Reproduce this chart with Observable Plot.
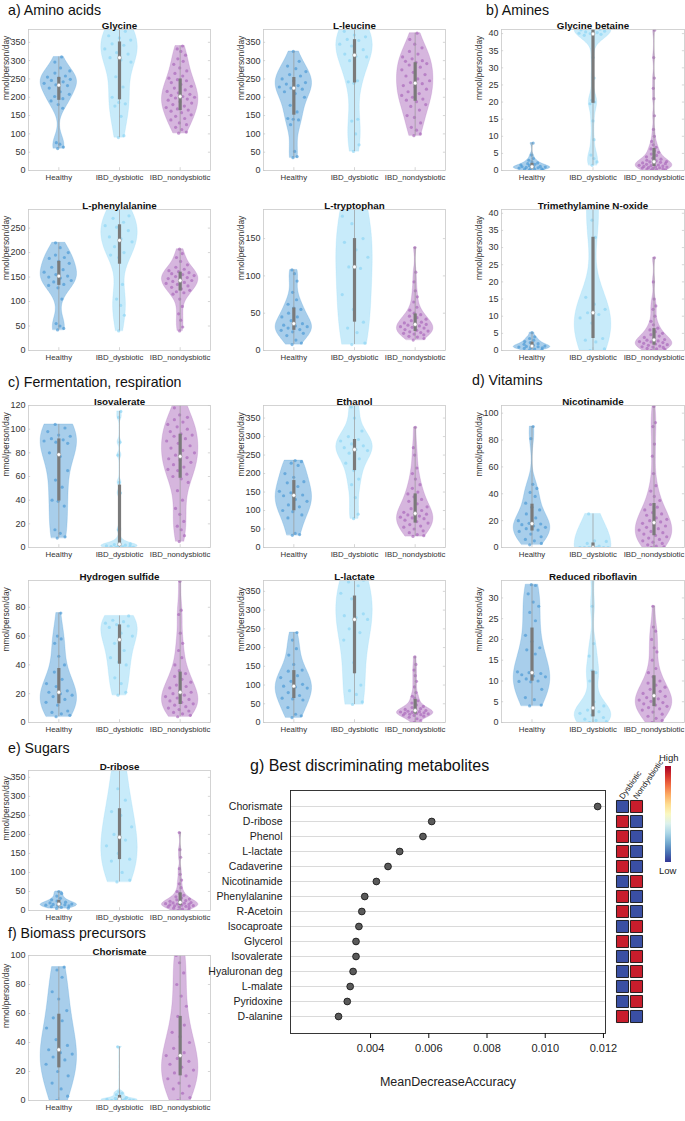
<!DOCTYPE html>
<html><head><meta charset="utf-8">
<script src="https://cdn.jsdelivr.net/npm/d3@7"></script>
<script src="https://cdn.jsdelivr.net/npm/@observablehq/plot@0.6"></script>
<style>
body{margin:0;background:#fff;}
#root{position:relative;width:685px;height:1121px;overflow:hidden;font-family:"Liberation Sans",Arial,Helvetica,sans-serif;color:#111;}
.hdr{position:absolute;font-size:14.2px;line-height:16px;white-space:nowrap;}
.pn{position:absolute;}
.pn svg{overflow:visible;max-width:none !important;}
</style></head><body><div id="root"></div>
<script>
// ---------- categories ----------
const groups = ["Healthy", "IBD_dysbiotic", "IBD_nondysbiotic"];

// ---------- a) Amino acids ----------
const glycineHealthy = [60,64,72,76,170,180,190,196,202,208,215,225,232,234,238,242,246,249,252,255,258,266,272,280,296,310];
const glycineDysbiotic = [90,95,148,176,182,186,200,228,256,296,302,308,318,322,332,342,346,356,362,368,380,400,420];
const glycineNondysbiotic = [102,105,112,118,125,130,138,142,148,152,158,162,165,168,172,176,180,184,188,192,195,198,200,202,205,208,212,216,220,225,230,235,240,245,248,252,258,265,272,280,290,298,305,315,325,332,340];

const leucineHealthy = [35,38,52,125,138,140,142,160,178,200,210,215,222,225,228,232,236,240,245,250,258,262,270,278,285,298,325];
const leucineDysbiotic = [52,70,100,135,140,238,242,245,300,310,312,318,330,340,345,355,358,365,370,380,400,420];
const leucineNondysbiotic = [95,100,110,118,130,145,150,165,175,180,188,192,195,200,205,210,215,222,228,232,237,240,245,250,258,262,268,275,282,288,292,295,298,300,305,310,318,325,335,345,358,375];

const phenylalanineHealthy = [42,45,50,55,105,128,133,135,140,143,148,150,152,155,160,165,170,178,182,188,190,195,200,210,220];
const phenylalanineDysbiotic = [40,72,92,105,135,190,195,200,212,222,228,232,245,252,255,262,270,275,290,305];
const phenylalanineNondysbiotic = [40,48,62,75,90,105,115,118,120,123,126,129,132,135,137,139,141,143,145,147,149,151,153,155,157,159,161,163,166,170,175,182,190,198,207];

const tryptophanHealthy = [8,10,14,20,23,25,27,28,30,32,33,34,36,40,45,45,50,55,57,62,68,78,93,103,108];
const tryptophanDysbiotic = [8,10,24,30,38,55,75,110,112,125,135,145,150,170,180,200,220];
const tryptophanNondysbiotic = [14,16,18,19,21,22,23,24,25,26,27,28,30,31,32,33,34,35,36,37,38,40,42,44,46,48,50,54,58,65,72,80,92,105,138];

// ---------- b) Amines ----------
const betaineHealthy = [0.1,0.2,0.3,0.4,0.5,0.6,0.7,0.8,0.9,1.0,1.0,1.1,1.2,1.4,1.6,1.8,2.0,2.2,2.5,3.0,3.5,4.5,8.0];
const betaineDysbiotic = [1.5,2.5,3.5,4.5,9,14.5,19.5,20,20.5,27,33,39.5,39.8,40,40.1,40.3,40.5,40.7,40.9,41.1,41.3,41.6,42,42.5,43,44];
const betaineNondysbiotic = [0.1,0.2,0.3,0.4,0.5,0.6,0.7,0.8,0.9,1.0,1.1,1.2,1.3,1.4,1.5,1.6,1.8,2.0,2.1,2.2,2.4,2.5,2.6,2.8,3.0,3.3,3.6,4.0,4.4,4.8,5.3,5.8,6.3,6.8,7.5,8.5,10,12,16,21,24,27,33,41];

const tmaoHealthy = [0.1,0.2,0.4,0.6,0.8,0.9,1.0,1.1,1.2,1.3,1.5,1.8,2.0,2.3,2.6,3.0,3.5,4.0,5.2];
const tmaoDysbiotic = [0,0.5,2.5,3,3.5,8,9.5,10.5,11,12,13.5,15.5,33,38,42,48,60];
const tmaoNondysbiotic = [0,0.3,0.5,0.6,0.9,1.0,1.1,1.3,1.5,1.7,1.9,2.1,2.3,2.5,2.6,2.8,3.0,3.2,3.5,3.8,4.2,4.6,5.0,5.5,6.0,6.5,7.5,8.5,10,12,13,15,20,27];

// ---------- c) Fermentation, respiration ----------
const isovalerateHealthy = [8,9,12,15,35,39,40,51,57,65,77,80,88,89,90,91,92,94,95,98,101,104];
const isovalerateDysbiotic = [0,0.2,0.5,0.8,1,1.2,1.5,2,2.5,3,7,15,46,55,78,89,110,115];
const isovalerateNondysbiotic = [5,10,15,18,22,28,33,40,48,55,58,60,62,65,66,68,70,72,74,75,76,78,80,82,84,86,88,90,92,94,95,96,98,100,102,104,106,108,110,112,118,125];

const ethanolHealthy = [33,35,38,80,88,97,100,110,115,125,130,140,142,148,152,165,175,178,190,200,222,228,232,235];
const ethanolDysbiotic = [78,90,135,170,185,208,228,240,255,262,265,270,275,280,288,292,300,315,350,380,400];
const ethanolNondysbiotic = [30,32,35,40,45,50,55,58,62,66,70,74,78,80,82,85,88,90,92,95,100,105,110,118,125,130,137,145,150,160,170,185,200,215,250,270,325];

const sulfideHealthy = [4,5,6,7,8,12,14,16,18,19,20,21,22,25,27,30,35,40,46,55,58,60,76];
const sulfideDysbiotic = [19,21,27,31,40,42,45,50,55,60,62,66,67,68,69,70,71,74];
const sulfideNondysbiotic = [4,5,6,7,8,9,10,11,12,13,14,15,16,17,18,19,20,21,22,24,25,26,28,30,32,34,36,40,45,50,55,62,75,78,98];

const lactateHealthy = [13,18,22,40,60,63,65,72,80,92,95,97,102,110,120,125,137,140,155,180,197,220,240];
const lactateDysbiotic = [48,55,75,85,100,160,220,240,250,275,280,285,290,330,345,365,375,380,400];
const lactateNondysbiotic = [0,5,10,14,17,19,20,21,22,23,24,25,26,27,28,29,30,32,33,35,37,40,43,47,52,58,65,70,80,95,110,125,140,155,175];

// ---------- d) Vitamins ----------
const nicotinamideHealthy = [2,3,5,6,8,10,12,13,14,15,16,17,17.5,18,20,22,25,28,30,33,38,41,44,47,81,90];
const nicotinamideDysbiotic = [0,0,0,0,0,0,0,1,3,4.5,5,25];
const nicotinamideNondysbiotic = [0,0.5,1,2,3,4,5,6,7,8,9,10,11,12,13,14,15,16,17,18,19,20,21,22,24,25,26,28,30,32,35,38,42,46,55,68,77,90,93,105];

const riboflavinHealthy = [4,4.2,5.5,6,8,9.8,9.9,10,10.5,11,11.2,11.5,11.8,12,12.2,16.5,17.5,18,19.5,21,24.5,26.5,28,29,31,33,33.2];
const riboflavinDysbiotic = [0,0.2,0.5,0.8,1.2,1.8,2.2,2.6,3,4,5,10,12,12.5,16,19,28,36];
const riboflavinNondysbiotic = [0,0.5,1,1.5,2,2.5,3,3.3,3.6,3.9,4.2,4.5,4.8,5.1,5.4,5.7,6.0,6.3,6.6,7,7.5,8,8.5,9,9.5,10,11,12,13,15,17,18,20,22,23,28];

// ---------- e) Sugars ----------
const riboseHealthy = [5,6,8,10,12,13,14,15,16,17,18,20,22,25,28,32,38,45,50];
const riboseDysbiotic = [75,80,100,130,135,150,170,185,200,220,250,260,290,320,370,400];
const riboseNondysbiotic = [0,2,4,6,8,9,10,11,12,13,14,15,16,17,18,19,20,21,22,24,26,28,30,33,36,40,45,50,60,70,80,95,110,140,160,205];

// ---------- f) Biomass precursors ----------
const chorismateHealthy = [0,3,8,12,17,20,25,28,30,32,33,35,38,42,50,55,57,62,70,75,85,90,92];
const chorismateDysbiotic = [0,0,0,0,0.2,0.5,0.8,1,1.5,2,3,4,5,6,37];
const chorismateNondysbiotic = [0,2,5,8,10,12,15,17,19,21,23,25,27,29,31,33,36,40,44,47,52,58,65,72,80,88,95,100,105];

// ---------- g) Best discriminating metabolites ----------
const metabolites = ["Chorismate","D-ribose","Phenol","L-lactate","Cadaverine","Nicotinamide","Phenylalanine","R-Acetoin","Isocaproate","Glycerol","Isovalerate","Hyaluronan deg","L-malate","Pyridoxine","D-alanine"];
const meanDecreaseAccuracy = [0.0118,0.0061,0.0058,0.0050,0.0046,0.0042,0.0038,0.0037,0.0036,0.0035,0.0035,0.0034,0.0033,0.0032,0.0029];
const dysbioticLevel = ["Low","High","High","High","High","Low","High","High","Low","High","Low","Low","Low","Low","High"];
const nondysbioticLevel = ["High","Low","Low","Low","Low","High","Low","Low","High","Low","High","High","High","High","Low"];
const accuracyTicks = [0.004,0.006,0.008,0.010,0.012];

// ---------- styles / layout ----------
const FONT = '"Liberation Sans", Arial, Helvetica, sans-serif';
const groupColors = ["#3f93d2", "#86d2f3", "#a35eb6"];
const cols = {A: {left: 28, w: 182}, B: {left: 263, w: 182}, C: {left: 501, w: 183}};
const rows = {r1: {top: 29, h: 141}, r2: {top: 209, h: 141}, r3: {top: 405, h: 142}, r4: {top: 580, h: 142}, r5: {top: 770, h: 140}, r6: {top: 955, h: 145}};

const panels = [
  {title: "Glycine", data: [glycineHealthy, glycineDysbiotic, glycineNondysbiotic], max: 385, step: 50, col: "A", row: "r1"},
  {title: "L-leucine", data: [leucineHealthy, leucineDysbiotic, leucineNondysbiotic], max: 385, step: 50, col: "B", row: "r1"},
  {title: "Glycine betaine", data: [betaineHealthy, betaineDysbiotic, betaineNondysbiotic], max: 41.2, step: 5, col: "C", row: "r1"},
  {title: "L-phenylalanine", data: [phenylalanineHealthy, phenylalanineDysbiotic, phenylalanineNondysbiotic], max: 288, step: 50, col: "A", row: "r2"},
  {title: "L-tryptophan", data: [tryptophanHealthy, tryptophanDysbiotic, tryptophanNondysbiotic], max: 189, step: 50, col: "B", row: "r2"},
  {title: "Trimethylamine N-oxide", data: [tmaoHealthy, tmaoDysbiotic, tmaoNondysbiotic], max: 41.1, step: 5, col: "C", row: "r2"},
  {title: "Isovalerate", data: [isovalerateHealthy, isovalerateDysbiotic, isovalerateNondysbiotic], max: 120, step: 20, col: "A", row: "r3"},
  {title: "Ethanol", data: [ethanolHealthy, ethanolDysbiotic, ethanolNondysbiotic], max: 384, step: 50, col: "B", row: "r3"},
  {title: "Nicotinamide", data: [nicotinamideHealthy, nicotinamideDysbiotic, nicotinamideNondysbiotic], max: 105.7, step: 20, col: "C", row: "r3"},
  {title: "Hydrogen sulfide", data: [sulfideHealthy, sulfideDysbiotic, sulfideNondysbiotic], max: 98.6, step: 20, col: "A", row: "r4"},
  {title: "L-lactate", data: [lactateHealthy, lactateDysbiotic, lactateNondysbiotic], max: 379, step: 50, col: "B", row: "r4"},
  {title: "Reduced riboflavin", data: [riboflavinHealthy, riboflavinDysbiotic, riboflavinNondysbiotic], max: 34.2, step: 5, col: "C", row: "r4"},
  {title: "D-ribose", data: [riboseHealthy, riboseDysbiotic, riboseNondysbiotic], max: 368, step: 50, col: "A", row: "r5"},
  {title: "Chorismate", data: [chorismateHealthy, chorismateDysbiotic, chorismateNondysbiotic], max: 100, step: 20, col: "A", row: "r6"}
];

const headers = [
  {text: "a) Amino acids", left: 8, top: 2, size: 14.2},
  {text: "b) Amines", left: 486, top: 2, size: 14.2},
  {text: "c) Fermentation, respiration", left: 8, top: 374, size: 14.2},
  {text: "d) Vitamins", left: 472, top: 372, size: 14.2},
  {text: "e) Sugars", left: 8, top: 740, size: 14.2},
  {text: "f) Biomass precursors", left: 8, top: 925, size: 14.2},
  {text: "g) Best discriminating metabolites", left: 250, top: 758, size: 16}
];

const root = document.getElementById("root");
function place(node, left, top) {
  const d = document.createElement("div");
  d.className = "pn";
  d.style.left = left + "px";
  d.style.top = top + "px";
  d.appendChild(node);
  root.appendChild(d);
}
for (const h of headers) {
  const d = document.createElement("div");
  d.className = "hdr";
  d.style.left = h.left + "px";
  d.style.top = h.top + "px";
  d.style.fontSize = h.size + "px";
  d.textContent = h.text;
  root.appendChild(d);
}

// ---------- violin marks (kernel density, truncated at data range) ----------
const HALF = 0.3;
function violinMarks(vals, i, color) {
  const v = vals.slice().sort(d3.ascending);
  const n = v.length, c = i + 0.5;
  const lo = v[0], hi = v[n - 1];
  const med = d3.median(v);
  let sig = d3.median(v, d => Math.abs(d - med)) / 0.6745;
  if (!(sig > 0)) sig = hi - lo;
  const h = sig * Math.pow(4 / (3 * n), 0.2);
  const dens = y => d3.sum(v, x => Math.exp(-0.5 * ((y - x) / h) ** 2));
  const grid = d3.range(0, 161).map(k => lo + (hi - lo) * k / 160);
  const dd = grid.map(dens);
  const m = d3.max(dd);
  const outline = grid.map((y, k) => ({y, x1: c - HALF * dd[k] / m, x2: c + HALF * dd[k] / m}));
  const pts = vals.map((y, k) => {
    const j = ((k * 0.6180339887 + 0.37) % 1) * 2 - 1;
    return {y, x: c + j * 0.85 * HALF * dens(y) / m};
  });
  const q1 = d3.quantile(v, 0.25), q3 = d3.quantile(v, 0.75);
  return [
    Plot.areaX(outline, {y: "y", x1: "x1", x2: "x2", fill: color, fillOpacity: 0.45, stroke: color, strokeOpacity: 0.35, strokeWidth: 0.6, curve: "linear", clip: true}),
    Plot.dot(pts, {x: "x", y: "y", r: 1.6, fill: color, fillOpacity: 0.6, clip: true}),
    Plot.ruleX([{x: c, y1: lo, y2: hi}], {x: "x", y1: "y1", y2: "y2", stroke: "#999", strokeWidth: 0.7, clip: true}),
    Plot.ruleX([{x: c, y1: q1, y2: q3}], {x: "x", y1: "y1", y2: "y2", stroke: "#7a7a7a", strokeWidth: 3.2, clip: true}),
    Plot.dot([{x: c, y: med}], {x: "x", y: "y", r: 1.9, fill: "white", stroke: "#8a8a8a", strokeWidth: 0.5, clip: true})
  ];
}

function violinPanel(p) {
  const col = cols[p.col], row = rows[p.row];
  const mL = 32, mR = 2, mT = 20, mB = 18;
  const ticks = d3.range(0, p.max + 1e-9, p.step);
  const marks = [
    Plot.ruleY(ticks, {x1: 0, x2: 0.035, stroke: "#c4c4c4", strokeWidth: 0.7}),
    Plot.ruleY(ticks, {x1: 2.965, x2: 3, stroke: "#c4c4c4", strokeWidth: 0.7}),
    Plot.ruleX([0.5, 1.5, 2.5], {y1: 0, y2: p.max * 0.02, stroke: "#c4c4c4", strokeWidth: 0.7})
  ];
  p.data.forEach((vals, i) => marks.push(...violinMarks(vals, i, groupColors[i])));
  marks.push(
    Plot.frame({stroke: "#c9c9c9", strokeWidth: 0.8}),
    Plot.axisY(ticks, {tickSize: 0, tickPadding: 3, fontSize: 9, fill: "#333", label: null}),
    Plot.axisX([0.5, 1.5, 2.5], {tickFormat: d => groups[Math.floor(d)], tickSize: 0, tickPadding: 4, fontSize: 7.8, fill: "#333", label: null}),
    Plot.text([p.title], {frameAnchor: "top", dy: -7, fontWeight: "bold", fontSize: 9.8, fill: "#111"}),
    Plot.text(["mmol/person/day"], {frameAnchor: "left", rotate: -90, dx: -22, fontSize: 8.4, fill: "#333"})
  );
  const svg = Plot.plot({
    width: col.w + mL + mR, height: row.h + mT + mB,
    marginLeft: mL, marginRight: mR, marginTop: mT, marginBottom: mB,
    style: {fontFamily: FONT, background: "transparent", overflow: "visible"},
    x: {domain: [0, 3]},
    y: {domain: [0, p.max]},
    marks
  });
  place(svg, col.left - mL, row.top - mT);
}
panels.forEach(violinPanel);

// ---------- g) dot chart ----------
const impRows = metabolites.map((name, i) => ({name, value: meanDecreaseAccuracy[i], dys: dysbioticLevel[i], nondys: nondysbioticLevel[i]}));
const gTop = 780, gLeft = 200;
const dotChart = Plot.plot({
  width: 409, height: 313,
  marginLeft: 90, marginRight: 4, marginTop: 10, marginBottom: 60,
  style: {fontFamily: FONT, background: "transparent", overflow: "visible"},
  x: {domain: [0.00125, 0.01207]},
  y: {type: "point", padding: 0, domain: metabolites, range: [25, 237]},
  marks: [
    Plot.ruleY(metabolites, {stroke: "#d0d0d0", strokeWidth: 0.8}),
    Plot.frame({stroke: "#222", strokeWidth: 0.9}),
    Plot.dot(impRows, {x: "value", y: "name", r: 3.4, fill: "#5a5a5a", stroke: "#111", strokeWidth: 0.8}),
    Plot.axisY({tickSize: 0, tickPadding: 8, fontSize: 10.5, fill: "#222", label: null}),
    Plot.axisX(accuracyTicks, {tickFormat: d3.format(".3f"), tickSize: 5, tickPadding: 6, fontSize: 11, fill: "#222", label: null}),
    Plot.text(["MeanDecreaseAccuracy"], {frameAnchor: "bottom", dy: 52, fontSize: 12.5, fill: "#222"})
  ]
});
place(dotChart, gLeft, gTop);

// ---------- g) direction heatmap ----------
const heatCells = impRows.flatMap(d => [{name: d.name, col: "Dysbiotic", level: d.dys}, {name: d.name, col: "Nondysbiotic", level: d.nondys}]);
const heatTop = 740;
const heat = Plot.plot({
  width: 85, height: 353,
  marginLeft: 0, marginRight: 0, marginTop: 0, marginBottom: 0,
  style: {fontFamily: FONT, background: "transparent", overflow: "visible"},
  x: {type: "point", padding: 0, domain: ["Dysbiotic", "Nondysbiotic"], range: [22, 36], axis: null},
  y: {type: "point", padding: 0, domain: metabolites, range: [65, 277], axis: null},
  color: {domain: ["Low", "High"], range: ["#3a4fa3", "#c81d2c"]},
  marks: [
    Plot.dot(heatCells, {x: "col", y: "name", symbol: "square", r: 6.8, fill: "level", stroke: "#111", strokeWidth: 0.9}),
    Plot.text(["Dysbiotic", "Nondysbiotic"], {x: d => d, frameAnchor: "top", dx: -4, dy: 56, rotate: -55, textAnchor: "start", fontSize: 8, fill: "#222"})
  ]
});
place(heat, 600, heatTop);

// ---------- colour bar ----------
const bar = document.createElement("div");
bar.style.cssText = "position:absolute;left:665px;top:766px;width:6px;height:96px;background:linear-gradient(to bottom," +
  d3.range(0, 1.0001, 0.1).map(t => d3.interpolateRdYlBu(t)).join(",") + ");";
root.appendChild(bar);
for (const [txt, top] of [["High", 752], ["Low", 865]]) {
  const d = document.createElement("div");
  d.className = "hdr";
  d.style.cssText = `left:659px;top:${top}px;font-size:9.5px;line-height:11px;color:#222;`;
  d.textContent = txt;
  root.appendChild(d);
}
</script></body></html>
